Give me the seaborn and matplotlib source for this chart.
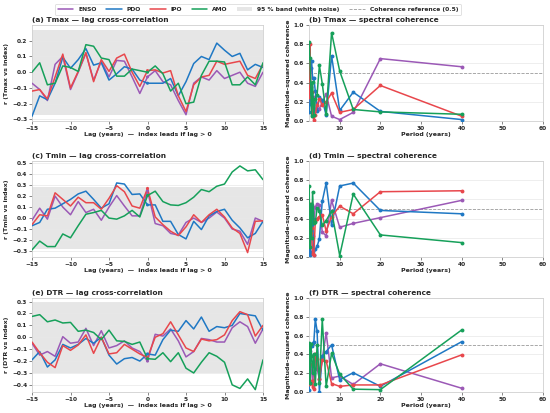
import numpy as np
import pandas as pd
import matplotlib
matplotlib.use("Agg")
import matplotlib.pyplot as plt
from matplotlib.lines import Line2D
from matplotlib.patches import Patch
import seaborn as sns

# ---------------- data ----------------
indices = ["ENSO", "PDO", "IPO", "AMO"]
colors = {"ENSO": "#9b59b6", "PDO": "#1f78c4", "IPO": "#e8474c", "AMO": "#16a05a"}

lags = list(range(-15, 16))

# (a) Tmax lag cross-correlation
tmax_enso = [-0.07, -0.11, -0.18, 0.05, 0.10, -0.11, 0.00, 0.12, -0.05, 0.07, -0.03, 0.075, 0.07, -0.03, -0.135, -0.03,
             0.01, -0.06, -0.08, -0.18, -0.27, -0.07, -0.03, -0.05, 0.01, -0.04, -0.02, 0.00, -0.07, -0.09, 0.00]
tmax_pdo = [-0.28, -0.15, -0.175, -0.07, 0.095, 0.025, 0.08, 0.15, 0.045, 0.06, -0.05, -0.01, 0.035, 0.02, -0.05, -0.07,
            -0.07, -0.07, -0.04, -0.15, -0.06, 0.055, 0.10, 0.08, 0.185, 0.14, 0.10, 0.12, 0.015, 0.05, 0.03]
tmax_ipo = [-0.12, -0.11, -0.17, -0.03, 0.115, -0.10, 0.005, 0.125, -0.06, 0.08, 0.005, 0.09, 0.115, 0.00, -0.09, 0.01,
            0.015, -0.005, 0.01, -0.15, -0.25, -0.08, -0.03, -0.02, 0.07, 0.05, 0.06, 0.07, -0.02, -0.04, 0.05]
tmax_amo = [0.00, 0.06, -0.08, -0.07, 0.04, 0.03, 0.005, 0.175, 0.165, 0.09, 0.08, -0.025, -0.025, 0.02, 0.01, 0.00,
            0.04, -0.01, -0.12, -0.07, -0.20, -0.19, -0.02, 0.07, 0.07, 0.065, -0.08, -0.08, -0.03, -0.08, 0.06]

# (c) Tmin lag cross-correlation
tmin_enso = [-0.02, 0.09, -0.01, 0.20, 0.10, 0.03, 0.15, 0.05, 0.08, -0.02, 0.10, 0.205, 0.11, 0.02, 0.02, 0.25,
             -0.05, -0.07, -0.14, -0.155, -0.04, 0.00, -0.04, 0.00, 0.055, 0.00, -0.10, -0.12, -0.24, 0.00, -0.03]
tmin_pdo = [-0.07, -0.04, 0.08, 0.09, 0.13, 0.17, 0.22, 0.245, 0.17, 0.09, 0.13, 0.32, 0.31, 0.215, 0.22, 0.12,
            0.12, -0.03, -0.03, -0.15, -0.19, -0.03, -0.105, 0.02, 0.06, 0.08, -0.02, -0.09, -0.18, -0.14, -0.03]
tmin_ipo = [-0.06, 0.03, 0.02, 0.23, 0.17, 0.11, 0.19, 0.14, 0.14, 0.08, 0.18, 0.295, 0.24, 0.11, 0.09, 0.27,
            0.01, -0.06, -0.12, -0.16, -0.08, 0.03, -0.04, 0.03, 0.08, 0.01, -0.09, -0.14, -0.315, -0.03, -0.025]
tmin_amo = [-0.29, -0.21, -0.26, -0.26, -0.145, -0.18, -0.07, 0.035, 0.05, 0.07, 0.00, -0.01, 0.02, 0.07, 0.01, 0.205,
            0.245, 0.15, 0.12, 0.115, 0.14, 0.19, 0.26, 0.24, 0.29, 0.31, 0.42, 0.475, 0.43, 0.44, 0.35]

# (e) DTR lag cross-correlation
dtr_enso = [-0.05, -0.15, -0.12, -0.16, 0.005, -0.05, -0.04, 0.075, -0.07, 0.055, -0.09, -0.07, -0.03, -0.09, -0.12, -0.20,
            0.025, 0.01, 0.07, -0.03, -0.165, -0.12, -0.01, -0.02, -0.04, -0.04, 0.08, 0.13, 0.09, -0.05, 0.07]
dtr_pdo = [-0.19, -0.12, -0.25, -0.19, -0.06, -0.09, -0.06, -0.01, -0.05, 0.00, -0.15, -0.225, -0.18, -0.17, -0.20, -0.14,
           -0.15, -0.02, 0.06, 0.05, 0.14, 0.07, 0.17, 0.05, 0.09, 0.08, 0.10, 0.20, 0.19, 0.18, 0.06]
dtr_ipo = [-0.04, -0.13, -0.21, -0.255, -0.07, -0.11, -0.065, 0.02, -0.135, 0.00, -0.14, -0.13, -0.06, -0.10, -0.14, -0.17,
           0.00, 0.03, 0.13, 0.02, -0.09, -0.12, -0.015, -0.03, -0.02, 0.02, 0.14, 0.215, 0.19, 0.01, 0.10]
dtr_amo = [0.175, 0.19, 0.13, 0.145, 0.12, 0.125, 0.05, 0.06, 0.04, -0.02, 0.06, -0.03, -0.035, -0.06, -0.04, -0.18,
           -0.185, -0.13, -0.205, -0.13, -0.26, -0.30, -0.21, -0.13, -0.16, -0.21, -0.40, -0.43, -0.35, -0.44, -0.19]

# spectral coherence, period (years)
periods = [40, 20, 13.33, 10, 8, 6.67, 5.71, 5, 4.44, 4, 3.64, 3.33, 3.08, 2.86, 2.67, 2.5]

coh_tmax_enso = [0.565, 0.65, 0.09, 0.015, 0.05, 0.28, 0.19, 0.13, 0.12, 0.12, 0.25, 0.10, 0.20, 0.35, 0.30, 0.22]
coh_tmax_pdo = [0.015, 0.10, 0.30, 0.11, 0.68, 0.06, 0.22, 0.25, 0.10, 0.31, 0.45, 0.45, 0.63, 0.55, 0.18, 0.09]
coh_tmax_ipo = [0.05, 0.37, 0.12, 0.09, 0.29, 0.20, 0.17, 0.23, 0.17, 0.06, 0.01, 0.06, 0.30, 0.40, 0.80, 0.25]
coh_tmax_amo = [0.07, 0.095, 0.12, 0.52, 0.92, 0.07, 0.39, 0.58, 0.27, 0.23, 0.06, 0.41, 0.05, 0.40, 0.66, 0.82]

coh_tmin_enso = [0.59, 0.41, 0.35, 0.31, 0.59, 0.22, 0.26, 0.54, 0.55, 0.52, 0.38, 0.22, 0.54, 0.54, 0.30, 0.05]
coh_tmin_pdo = [0.45, 0.485, 0.77, 0.74, 0.33, 0.77, 0.58, 0.19, 0.11, 0.08, 0.02, 0.40, 0.34, 0.05, 0.02, 0.25]
coh_tmin_ipo = [0.69, 0.68, 0.45, 0.53, 0.42, 0.27, 0.44, 0.42, 0.40, 0.38, 0.02, 0.03, 0.30, 0.25, 0.55, 0.42]
coh_tmin_amo = [0.15, 0.23, 0.655, 0.015, 0.48, 0.38, 0.33, 0.48, 0.51, 0.36, 0.35, 0.68, 0.20, 0.55, 0.10, 0.74]

coh_dtr_enso = [0.04, 0.30, 0.08, 0.17, 0.15, 0.63, 0.35, 0.14, 0.25, 0.40, 0.20, 0.13, 0.22, 0.28, 0.44, 0.10]
coh_dtr_pdo = [0.535, 0.06, 0.205, 0.13, 0.50, 0.43, 0.38, 0.00, 0.65, 0.775, 0.53, 0.52, 0.49, 0.50, 0.40, 0.02]
coh_dtr_ipo = [0.395, 0.075, 0.075, 0.06, 0.09, 0.33, 0.34, 0.14, 0.35, 0.40, 0.03, 0.05, 0.12, 0.10, 0.30, 0.08]
coh_dtr_amo = [0.66, 0.025, 0.03, 0.19, 0.41, 0.06, 0.775, 0.10, 0.50, 0.08, 0.40, 0.20, 0.38, 0.51, 0.10, 0.52]

band_a, band_c, band_e = 0.27, 0.28, 0.30
coh_ref = 0.5

lag_titles = ["(a) Tmax — lag cross-correlation", "(c) Tmin — lag cross-correlation", "(e) DTR — lag cross-correlation"]
coh_titles = ["(b) Tmax — spectral coherence", "(d) Tmin — spectral coherence", "(f) DTR — spectral coherence"]
lag_ylabels = ["r (Tmax vs index)", "r (Tmin vs index)", "r (DTR vs index)"]
lag_xlabel = "Lag (years)  —  index leads if lag > 0"
coh_xlabel = "Period (years)"
coh_ylabel = "Magnitude-squared coherence"
legend_band = "95 % band (white noise)"
legend_ref = "Coherence reference (0.5)"

lag_sets = [
    {"ENSO": tmax_enso, "PDO": tmax_pdo, "IPO": tmax_ipo, "AMO": tmax_amo},
    {"ENSO": tmin_enso, "PDO": tmin_pdo, "IPO": tmin_ipo, "AMO": tmin_amo},
    {"ENSO": dtr_enso, "PDO": dtr_pdo, "IPO": dtr_ipo, "AMO": dtr_amo},
]
coh_sets = [
    {"ENSO": coh_tmax_enso, "PDO": coh_tmax_pdo, "IPO": coh_tmax_ipo, "AMO": coh_tmax_amo},
    {"ENSO": coh_tmin_enso, "PDO": coh_tmin_pdo, "IPO": coh_tmin_ipo, "AMO": coh_tmin_amo},
    {"ENSO": coh_dtr_enso, "PDO": coh_dtr_pdo, "IPO": coh_dtr_ipo, "AMO": coh_dtr_amo},
]
bands = [band_a, band_c, band_e]
lag_ylims = [(-0.31, 0.30), (-0.355, 0.52), (-0.46, 0.33)]
lag_yticks = [np.arange(-0.3, 0.21, 0.1), np.arange(-0.3, 0.51, 0.1), np.arange(-0.4, 0.31, 0.1)]

# ---------------- style ----------------
sns.set_theme(style="whitegrid")
plt.rcParams["font.family"] = ["DejaVu Sans"]
plt.rcParams["font.weight"] = "bold"
plt.rcParams["axes.labelweight"] = "bold"
plt.rcParams["axes.titleweight"] = "bold"

W, H = 550, 413
fig = plt.figure(figsize=(W / 100, H / 100), dpi=100)

def frac(x0, y_top, x1, y_bot):
    return [x0 / W, 1 - y_bot / H, (x1 - x0) / W, (y_bot - y_top) / H]

rows = [(25, 121), (161, 257), (298, 392)]
FS_T, FS_L, FS_K = 5.3, 4.5, 4.2

def style_ax(ax):
    ax.grid(axis="x", visible=False)
    ax.grid(axis="y", color="#e8e8e8", linewidth=0.5)
    for s in ax.spines.values():
        s.set_color("#d0d0d0")
        s.set_linewidth(0.6)
    ax.tick_params(axis="both", which="major", labelsize=FS_K, length=2, width=0.5,
                   color="#555555", pad=1.5, bottom=True, left=True)
    for lab in ax.get_xticklabels() + ax.get_yticklabels():
        lab.set_fontweight("bold")

for r, (yt, yb) in enumerate(rows):
    # lag panel
    ax = fig.add_axes(frac(32, yt, 263, yb))
    ax.axhspan(-bands[r], bands[r], color="#e6e6e6", zorder=0, linewidth=0)
    df = pd.DataFrame([(l, v, k) for k in indices for l, v in zip(lags, lag_sets[r][k])],
                      columns=["lag", "r", "index"])
    sns.lineplot(data=df, x="lag", y="r", hue="index", hue_order=indices, palette=colors,
                 ax=ax, legend=False, linewidth=1.1, zorder=3)
    d0 = df[df["lag"] == 0]
    sns.scatterplot(data=d0, x="lag", y="r", hue="index", hue_order=indices, palette=colors,
                    ax=ax, legend=False, s=5, linewidth=0, zorder=4)
    ax.set_xlim(-15, 15)
    ax.set_xticks([-15, -10, -5, 0, 5, 10, 15])
    ax.set_ylim(*lag_ylims[r])
    ax.set_yticks(lag_yticks[r])
    ax.set_title(lag_titles[r], fontsize=FS_T, fontweight="bold", loc="left", pad=2)
    ax.set_xlabel(lag_xlabel, fontsize=FS_L, fontweight="bold", labelpad=1)
    ax.set_ylabel(lag_ylabels[r], fontsize=FS_L, fontweight="bold", labelpad=2)
    style_ax(ax)

    # coherence panel
    ax2 = fig.add_axes(frac(309, yt, 543, yb))
    dc = pd.DataFrame([(p, v, k) for k in indices for p, v in zip(periods, coh_sets[r][k])],
                      columns=["period", "coh", "index"])
    sns.lineplot(data=dc, x="period", y="coh", hue="index", hue_order=indices, palette=colors,
                 ax=ax2, legend=False, linewidth=1.1, marker="o", markersize=2.8,
                 markeredgewidth=0, zorder=3)
    ax2.axhline(coh_ref, color="#9a9a9a", linestyle="--", linewidth=0.6, zorder=2)
    ax2.set_xlim(2.45, 60)
    ax2.set_xticks([10, 20, 30, 40, 50, 60])
    ax2.set_ylim(0, 1.0)
    ax2.set_yticks([0.0, 0.2, 0.4, 0.6, 0.8, 1.0])
    ax2.set_title(coh_titles[r], fontsize=FS_T, fontweight="bold", loc="left", pad=2)
    ax2.set_xlabel(coh_xlabel, fontsize=FS_L, fontweight="bold", labelpad=1)
    ax2.set_ylabel(coh_ylabel, fontsize=FS_L, fontweight="bold", labelpad=2)
    style_ax(ax2)

handles = [Line2D([0], [0], color=colors[k], lw=1.1) for k in indices]
handles.append(Patch(facecolor="#e6e6e6", edgecolor="none"))
handles.append(Line2D([0], [0], color="#9a9a9a", lw=0.6, linestyle="--"))
labels = indices + [legend_band, legend_ref]
leg = fig.legend(handles, labels, loc="upper center", bbox_to_anchor=(0.469, 0.998), ncol=6,
                 fontsize=4.3, frameon=True, handlelength=2.6, columnspacing=1.6,
                 borderpad=0.5, handletextpad=0.8)
leg.get_frame().set_edgecolor("#cccccc")
leg.get_frame().set_linewidth(0.5)
for t in leg.get_texts():
    t.set_fontweight("bold")

fig.savefig("out.png", dpi=100)
